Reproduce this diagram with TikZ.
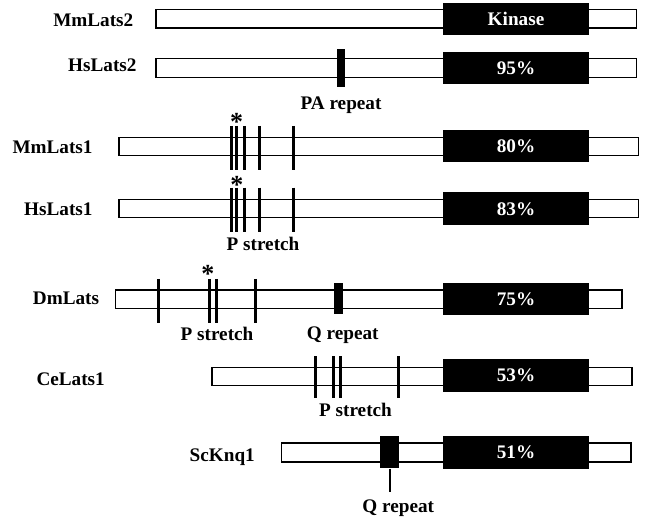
\documentclass[tikz,border=0pt]{standalone}
\usepackage{fontspec}
\setmainfont{Liberation Serif}
\begin{document}
\begin{tikzpicture}[x=1pt,y=-1pt,
  protein/.style={draw, line width=1.5pt, fill=white},
  kbox/.style={fill=black, inner sep=0pt, minimum width=146pt, minimum height=32.6pt,
    text=white, font=\bfseries\fontsize{19.2}{21}\selectfont},
  protname/.style={font=\bfseries\fontsize{19.2}{21}\selectfont, inner sep=0pt},
  featlabel/.style={font=\bfseries\fontsize{19.2}{21}\selectfont, inner sep=0pt, anchor=base},
  asterisk/.style={font=\bfseries\fontsize{26}{26}\selectfont, inner sep=0pt, anchor=base},
  tickmark/.style={line width=3pt},
  repeatbox/.style={fill=black}]
\useasboundingbox (0,0) rectangle (650,518);

% MmLats2
\node[protname, anchor=base east] (n1) at (133.5,26.7) {MmLats2};
\draw[protein] (156,9.7) rectangle (636.5,28);
\node[kbox] (k1) at (516,19) {Kinase};

% HsLats2
\node[protname, anchor=base east] (n2) at (136.7,71.7) {HsLats2};
\draw[protein] (156,58.5) rectangle (636.5,77.3);
\node[kbox] (k2) at (516,68) {95\%};
\fill[repeatbox] (336.5,49.3) rectangle (345,86.7);
\node[featlabel] (pa) at (341,109.3) {PA repeat};

% MmLats1
\node[protname, anchor=base east] (n3) at (92.7,153.3) {MmLats1};
\draw[protein] (119,137.3) rectangle (638.5,155.5);
\node[kbox] (k3) at (516,146) {80\%};
\foreach \x in {231,236.7,244.3,259.3,293.3}
  \draw[tickmark] (\x,126) -- (\x,170);
\node[asterisk] (s3) at (236.7,130.6) {*};

% HsLats1
\node[protname, anchor=base east] (n4) at (92.7,215.7) {HsLats1};
\draw[protein] (119,199.3) rectangle (638.5,217.5);
\node[kbox] (k4) at (516,208.8) {83\%};
\foreach \x in {231,236.7,244.3,259.3,293.3}
  \draw[tickmark] (\x,187.7) -- (\x,231.7);
\node[asterisk] (s4) at (236.9,193.3) {*};
\node[featlabel] (p4) at (263,250.7) {P stretch};

% DmLats
\node[protname, anchor=base east] (n5) at (99.3,305) {DmLats};
\draw[protein] (115.5,290) rectangle (622,308.3);
\node[kbox] (k5) at (516,299) {75\%};
\foreach \x in {158.3,209,216,255}
  \draw[tickmark] (\x,279) -- (\x,323.3);
\fill[repeatbox] (334,283.3) rectangle (343.3,314.3);
\node[asterisk] (s5) at (207.8,282.6) {*};
\node[featlabel] (p5) at (217,341) {P stretch};
\node[featlabel] (q5) at (342.7,339.4) {Q repeat};

% CeLats1
\node[protname, anchor=base east] (n6) at (105,385) {CeLats1};
\draw[protein] (212,367.3) rectangle (632,385.3);
\node[kbox] (k6) at (516,375.5) {53\%};
\foreach \x in {315,333,340,398}
  \draw[tickmark] (\x,356) -- (\x,398.3);
\node[featlabel] (p6) at (355.5,416) {P stretch};

% ScKnq1
\node[protname, anchor=base east] (n7) at (255,461.5) {ScKnq1};
\draw[protein] (281.7,443) rectangle (631,462);
\node[kbox] (k7) at (516,452.2) {51\%};
\node[fill=black, inner sep=0pt, minimum width=19pt, minimum height=32.3pt] (q7) at (389.5,452.2) {};
\node[featlabel] (ql7) at (398.3,512.7) {Q repeat};
\coordinate (qe7) at (389.5,491.7);
\draw[line width=2pt] (q7.south) -- (qe7);
\end{tikzpicture}
\end{document}
